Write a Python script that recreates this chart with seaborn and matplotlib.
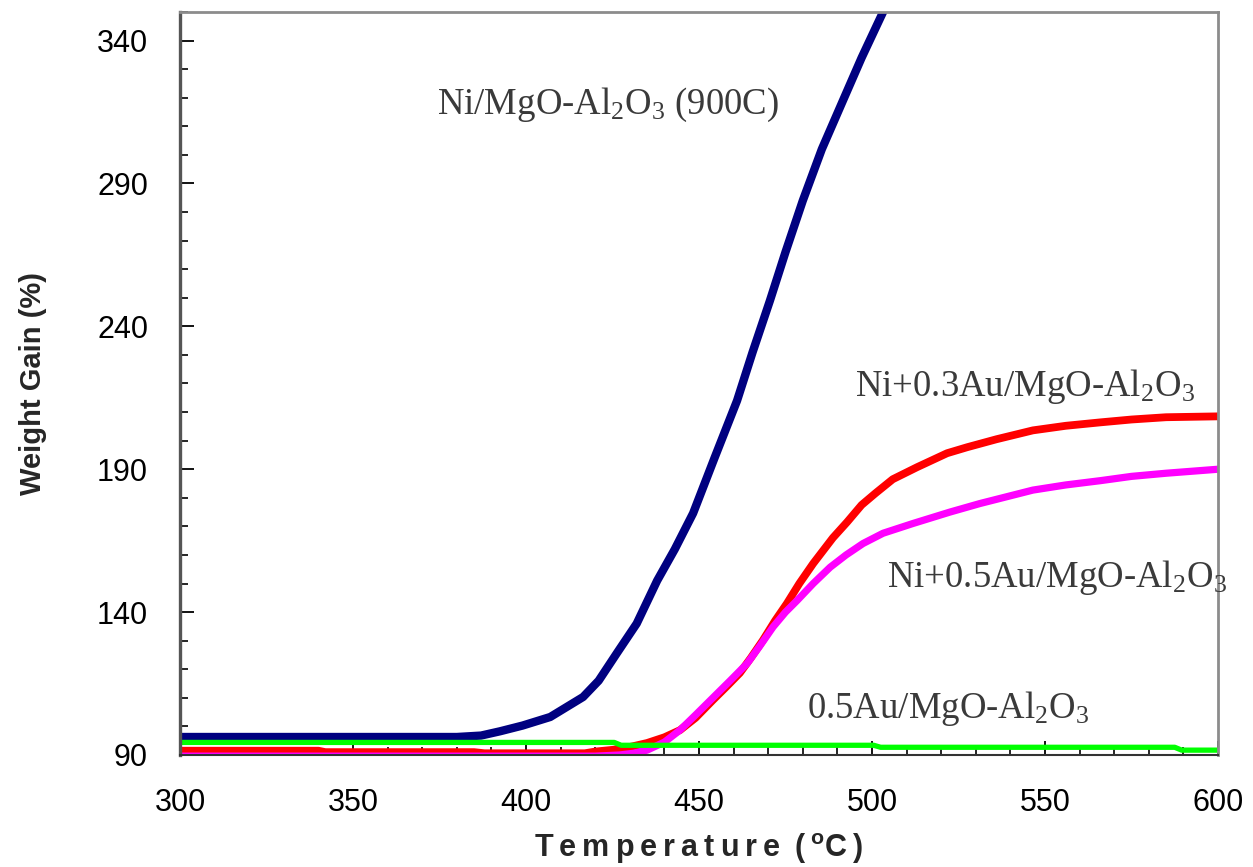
import numpy as np
import pandas as pd
import matplotlib
matplotlib.use("Agg")
import matplotlib.pyplot as plt
import seaborn as sns
from matplotlib.ticker import MultipleLocator

# ---------------- data ----------------
navy_T = [300, 380, 387, 392.5, 399, 407, 416.5, 421, 426.3, 432, 437.9, 443, 448.3,
          454.5, 461, 465.5, 470.5, 475, 480, 485.5, 491.6, 497, 503.2, 505]
navy_W = [96.3, 96.3, 96.8, 98.3, 100.3, 103.3, 110.3, 116, 125.7, 136, 151, 162, 174.6,
          194, 214, 231, 249, 266, 284, 302, 319, 334, 350, 355]

red_T = [300, 340, 342, 385, 388, 417, 420, 425, 430, 435, 440, 444.5, 449, 454, 458,
         461.8, 465, 468.5, 472, 475.4, 479, 483, 488.7, 492.8, 497, 501, 506, 513,
         521.7, 527.5, 536, 546.5, 556, 566, 575, 585, 600]
red_W = [91.5, 91.5, 91.0, 91.0, 90.6, 90.6, 91.2, 91.8, 92.8, 94.2, 96.2, 98.7, 103,
         109.2, 114, 118.7, 124, 130.2, 137, 143, 150, 157, 166, 171.5, 177.5, 181.6,
         186.5, 190.7, 195.6, 197.7, 200.5, 203.6, 205.2, 206.4, 207.4, 208.2, 208.5]

mag_T = [300, 420, 427, 431, 435, 440, 444.5, 449, 454, 459, 463.9, 467.5, 471.4, 475,
         478.3, 483, 487.9, 492.5, 497.4, 503.2, 511.8, 522.5, 531.2, 546.5, 556, 566,
         575, 585, 600]
mag_W = [89.6, 89.6, 90.0, 90.6, 91.7, 94.5, 98.7, 104, 110, 116, 122, 128, 134.8, 140,
         144, 150, 155.7, 160, 164, 167.6, 171, 175, 178, 182.7, 184.5, 186, 187.5,
         188.6, 190]

green_T = [300, 425.5, 427.5, 500.5, 502.5, 587.5, 589.5, 600]
green_W = [94.4, 94.4, 93.4, 93.4, 92.7, 92.7, 91.7, 91.7]

labels = ["Ni/MgO-Al$_2$O$_3$ (900C)", "Ni+0.3Au/MgO-Al$_2$O$_3$",
          "Ni+0.5Au/MgO-Al$_2$O$_3$", "0.5Au/MgO-Al$_2$O$_3$"]
x_ticks = [300, 350, 400, 450, 500, 550, 600]
y_ticks = [90, 140, 190, 240, 290, 340]

# ---------------- style ----------------
sns.set_theme(style="white")
plt.rcParams["font.family"] = ["Liberation Sans", "DejaVu Sans"]
plt.rcParams["mathtext.fontset"] = "custom"
plt.rcParams["mathtext.rm"] = "Liberation Serif"
plt.rcParams["mathtext.it"] = "Liberation Serif:italic"
plt.rcParams["mathtext.bf"] = "Liberation Sans:bold"

fig = plt.figure(figsize=(12.53, 8.67), dpi=100)
ax = fig.add_axes([180 / 1253, 1 - 755 / 867, (1218 - 180) / 1253, (755 - 12) / 867])

series = [
    (navy_T, navy_W, "#000080", 6.0),
    (red_T, red_W, "#ff0000", 5.6),
    (mag_T, mag_W, "#ff00ff", 5.2),
    (green_T, green_W, "#00ff00", 3.8),
]
for T, W, c, lw in series:
    df = pd.DataFrame({"T": T, "W": W})
    sns.lineplot(data=df, x="T", y="W", ax=ax, color=c, linewidth=lw,
                 sort=False, estimator=None, solid_capstyle="round")

ax.set_xlim(300, 600)
ax.set_ylim(90, 350)
ax.set_xticks(x_ticks)
ax.set_yticks(y_ticks)
ax.xaxis.set_minor_locator(MultipleLocator(10))
ax.yaxis.set_minor_locator(MultipleLocator(10))
ax.tick_params(axis="both", which="major", direction="in", length=10, width=1.3,
               color="black", labelsize=22, labelcolor="black")
ax.tick_params(axis="both", which="minor", direction="in", length=6, width=1.2,
               color="black")
ax.tick_params(axis="x", which="major", pad=24, bottom=True)
ax.tick_params(axis="x", which="minor", bottom=True)
ax.tick_params(axis="y", which="major", pad=23, left=True)
ax.tick_params(axis="y", which="minor", left=True)

ax.spines["left"].set_color("#555555")
ax.spines["left"].set_linewidth(2.4)
ax.spines["bottom"].set_color("#333333")
ax.spines["bottom"].set_linewidth(1.5)
for s in ("top", "right"):
    ax.spines[s].set_color("#8c8c8c")
    ax.spines[s].set_linewidth(2.0)

xlab = "\u2009".join("Temperature") + "\u2009 (\u2009$\\mathbf{^o}$C\u2009)"
ax.set_xlabel(xlab, fontsize=22, fontweight="bold", labelpad=9)
ax.set_ylabel("Weight Gain (%)", fontsize=21, fontweight="bold", labelpad=36)

txt_kw = dict(fontsize=26.5, color="#3a3a3a", family="Liberation Serif", va="center", ha="left")
ax.text(374.3, 317.5, labels[0], **txt_kw)
ax.text(495.0, 219.0, labels[1], **txt_kw)
ax.text(504.3, 152.0, labels[2], **txt_kw)
ax.text(481.2, 106.4, labels[3], **txt_kw)

fig.savefig("out.png", dpi=100)
